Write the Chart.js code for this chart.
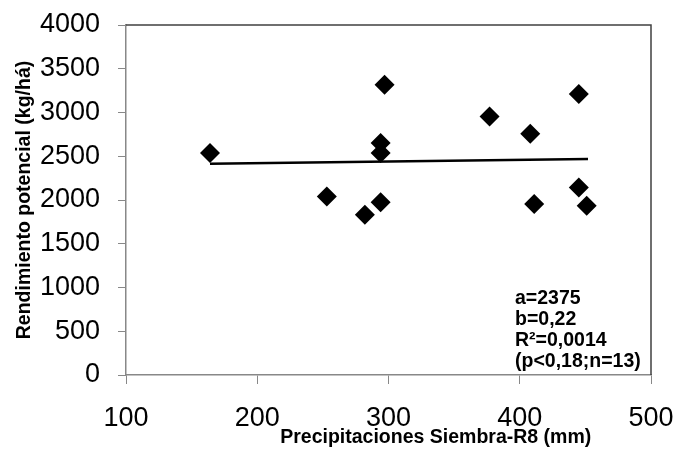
<!DOCTYPE html>
<html lang="es">
<head>
  <meta charset="UTF-8">
  <script src="https://cdn.jsdelivr.net/npm/chart.js@4"></script>
  <title>Rendimiento potencial vs precipitaciones</title>
  <style>
    body { margin: 0; background: #fff; }
  </style>
</head>
<body>
  <canvas id="rendChart" width="677" height="454"></canvas>

  <script>
    // values
    var precip = [164, 253, 282, 294, 294, 294, 297, 377, 408, 411, 445, 445, 451]
    var rendimiento = [2537, 2041, 1832, 1973, 2537, 2651, 3318, 2955, 2758, 1954, 3211, 2144, 1935]
    var trendX = [164, 452]
    var trendY = [2415, 2469]
    var statsLines = ['a=2375', 'b=0,22', 'R\u00b2=0,0014', '(p<0,18;n=13)']
    var xTitle = 'Precipitaciones Siembra-R8 (mm)'
    var yTitle = 'Rendimiento potencial (kg/h\u00e1)'

    const font = "'Liberation Sans', Arial, sans-serif"

    // frame on top/right, x title and the regression stats
    const extras = {
      id: 'extras',
      afterDraw(chart) {
        const ctx = chart.ctx
        const a = chart.chartArea
        ctx.save()
        ctx.strokeStyle = '#404040'
        ctx.lineWidth = 1.5
        ctx.beginPath()
        ctx.moveTo(a.left, a.top)
        ctx.lineTo(a.right, a.top)
        ctx.lineTo(a.right, a.bottom)
        ctx.stroke()

        ctx.fillStyle = '#000'
        ctx.font = 'bold 19.5px ' + font
        ctx.textAlign = 'center'
        ctx.textBaseline = 'alphabetic'
        ctx.fillText(xTitle, a.left + 0.59 * (a.right - a.left), a.bottom + 68)

        ctx.font = 'bold 19.5px ' + font
        ctx.textAlign = 'left'
        statsLines.forEach((t, i) => {
          ctx.fillText(t, a.left + 389, a.bottom - 71 + i * 21)
        })
        ctx.restore()
      }
    }

    const ctx = document.getElementById('rendChart').getContext('2d')
    const chart = new Chart(ctx, {
      data: {
        datasets: [
          {
            type: 'scatter',
            label: 'Rendimiento',
            data: precip.map((x, i) => ({ x: x, y: rendimiento[i] })),
            pointStyle: 'rectRot',
            pointRadius: 10,
            pointBackgroundColor: '#000',
            pointBorderWidth: 0,
            order: 1
          },
          {
            type: 'line',
            label: 'Tendencia',
            data: trendX.map((x, i) => ({ x: x, y: trendY[i] })),
            borderColor: '#000',
            borderWidth: 2.5,
            pointRadius: 0,
            fill: false,
            order: 2
          }
        ]
      },
      options: {
        responsive: false,
        animation: false,
        layout: { padding: { top: 25, right: 26, left: 0, bottom: 0 } },
        plugins: {
          legend: { display: false },
          tooltip: { enabled: false }
        },
        scales: {
          x: {
            type: 'linear',
            min: 100,
            max: 500,
            afterFit(scale) {
              scale.height = 79
              scale.paddingLeft = 0
              scale.paddingRight = 0
            },
            ticks: {
              stepSize: 100,
              color: '#000',
              padding: 18,
              font: { family: font, size: 27 },
              callback: v => String(v)
            },
            grid: { drawOnChartArea: false, tickLength: 9, color: '#888' },
            border: { color: '#888', width: 1.5 }
          },
          y: {
            min: 0,
            max: 4000,
            afterFit(scale) {
              scale.width = 126
              scale.paddingTop = 0
              scale.paddingBottom = 0
            },
            ticks: {
              stepSize: 500,
              color: '#000',
              padding: 18,
              font: { family: font, size: 27 },
              callback: v => String(v)
            },
            grid: { drawOnChartArea: false, tickLength: 8, color: '#888' },
            border: { color: '#888', width: 1.5 },
            title: {
              display: true,
              text: yTitle,
              color: '#000',
              padding: { top: 13, bottom: 0 },
              font: { family: font, size: 19.5, weight: 'bold' }
            }
          }
        }
      },
      plugins: [extras]
    })
  </script>
</body>
</html>
